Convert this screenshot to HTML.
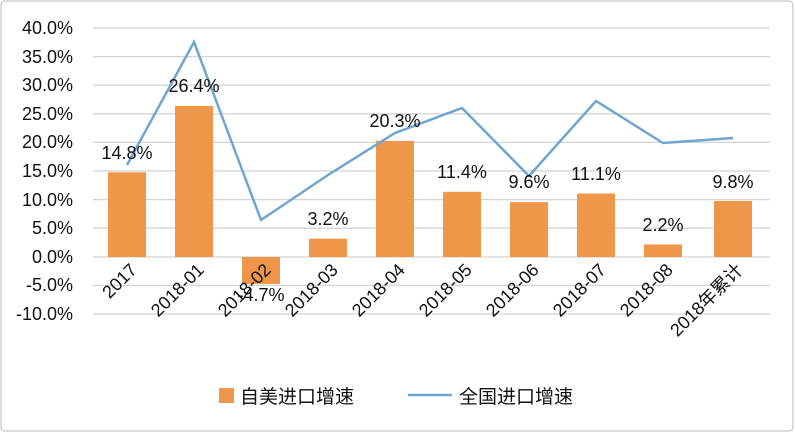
<!DOCTYPE html><html><head><meta charset="utf-8"><style>body{margin:0;background:#fff}svg{display:block}text{font-family:"Liberation Sans","Noto Sans CJK SC",sans-serif;fill:#111}</style></head><body>
<svg width="795" height="433" viewBox="0 0 795 433">
<rect x="1" y="1" width="792" height="430" rx="4" fill="#fff" stroke="#d0d0d0" stroke-width="1.5"/>
<g stroke="#d4d4d4" stroke-width="1.3">
<line x1="93" x2="770" y1="28" y2="28"/><line x1="93" x2="770" y1="56.6" y2="56.6"/><line x1="93" x2="770" y1="85.2" y2="85.2"/><line x1="93" x2="770" y1="113.8" y2="113.8"/><line x1="93" x2="770" y1="142.4" y2="142.4"/><line x1="93" x2="770" y1="171" y2="171"/><line x1="93" x2="770" y1="199.6" y2="199.6"/><line x1="93" x2="770" y1="228.2" y2="228.2"/><line x1="93" x2="770" y1="257" y2="257"/><line x1="93" x2="770" y1="285.4" y2="285.4"/><line x1="93" x2="770" y1="314" y2="314"/>
</g>
<g font-size="18" text-anchor="end">
<text x="73" y="34">40.0%</text><text x="73" y="63">35.0%</text><text x="73" y="91">30.0%</text><text x="73" y="120">25.0%</text><text x="73" y="148">20.0%</text><text x="73" y="177">15.0%</text><text x="73" y="206">10.0%</text><text x="73" y="234">5.0%</text><text x="73" y="263">0.0%</text><text x="73" y="291">-5.0%</text><text x="73" y="320">-10.0%</text>
</g>
<g fill="#f0964a">
<rect x="108" y="172.3" width="38" height="84.7"/>
<rect x="175" y="106" width="38" height="151"/>
<rect x="242" y="257" width="38" height="26.9"/>
<rect x="309" y="238.7" width="38" height="18.3"/>
<rect x="376" y="140.9" width="38" height="116.1"/>
<rect x="443" y="191.8" width="38" height="65.2"/>
<rect x="510" y="202.1" width="38" height="54.9"/>
<rect x="577" y="193.5" width="38" height="63.5"/>
<rect x="644" y="244.4" width="38" height="12.6"/>
<rect x="714" y="201" width="38" height="56"/>
</g>
<polyline fill="none" stroke="#6ea6cf" stroke-width="2.5" points="127,165 194,42 261,220 328,175 395,133 462,108 529,176 596,101 663,143 733,138"/>
<g font-size="18" text-anchor="middle">
<text x="127" y="159">14.8%</text><text x="194" y="92">26.4%</text><text x="261" y="301">-4.7%</text><text x="328" y="225">3.2%</text><text x="395" y="127">20.3%</text><text x="462" y="178">11.4%</text><text x="529" y="188">9.6%</text><text x="596" y="180">11.1%</text><text x="663" y="231">2.2%</text><text x="733" y="188">9.8%</text>
</g>
<g font-size="18" text-anchor="end">
<text transform="translate(138,271) rotate(-45)">2017</text>
<text transform="translate(205,271) rotate(-45)">2018-01</text>
<text transform="translate(272,271) rotate(-45)">2018-02</text>
<text transform="translate(339,271) rotate(-45)">2018-03</text>
<text transform="translate(406,271) rotate(-45)">2018-04</text>
<text transform="translate(473,271) rotate(-45)">2018-05</text>
<text transform="translate(540,271) rotate(-45)">2018-06</text>
<text transform="translate(607,271) rotate(-45)">2018-07</text>
<text transform="translate(674,271) rotate(-45)">2018-08</text>
<text transform="translate(744,271) rotate(-45)">2018年累计</text>
</g>
<rect x="219" y="388" width="15" height="15" fill="#f0964a"/>
<text x="240" y="403" font-size="19">自美进口增速</text>
<line x1="408" x2="452" y1="395" y2="395" stroke="#6ea6cf" stroke-width="2.5"/>
<text x="459" y="403" font-size="19">全国进口增速</text>
</svg></body></html>
